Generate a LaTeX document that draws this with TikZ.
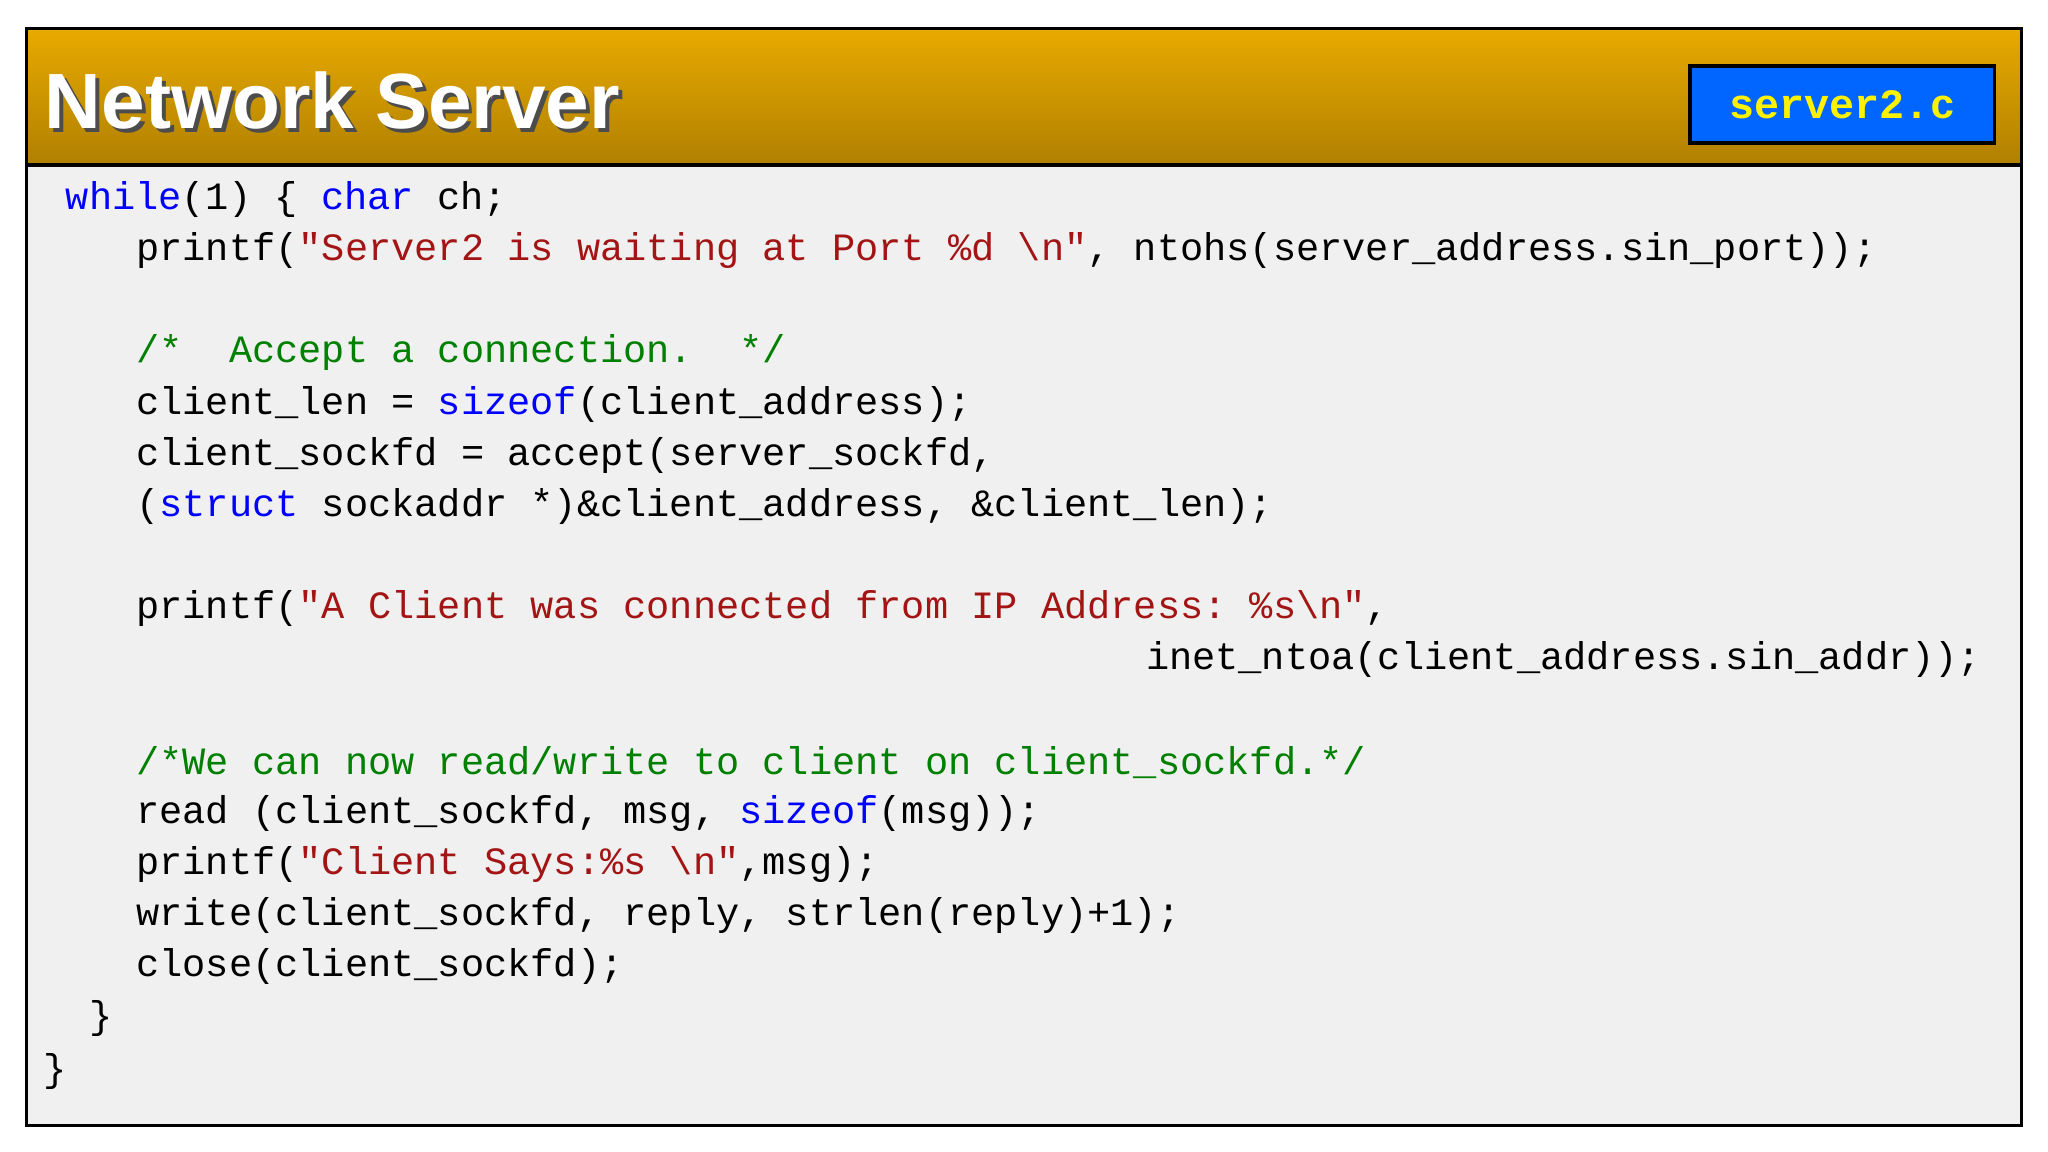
\documentclass[tikz,border=0pt]{standalone}
\usepackage{fontspec}
\setmainfont{Liberation Sans}
\setmonofont{Liberation Mono}
\definecolor{kw}{RGB}{0,0,255}
\definecolor{st}{RGB}{163,21,21}
\definecolor{cm}{RGB}{0,128,0}
\definecolor{goldtop}{RGB}{232,170,0}
\definecolor{goldbot}{RGB}{176,128,0}
\definecolor{bg}{RGB}{240,240,240}
\definecolor{fileblue}{RGB}{0,102,255}
\newcommand{\Kw}[1]{\textcolor{kw}{#1}}
\newcommand{\Sq}[1]{\textcolor{st}{#1}}
\newcommand{\Cm}[1]{\textcolor{cm}{#1}}
\begin{document}
\begin{tikzpicture}[x=0.5pt,y=-0.5pt,
  code/.style={anchor=west,inner sep=0pt,font=\ttfamily\fontsize{14.8}{16}\selectfont}]
\useasboundingbox (0,0) rectangle (1568,882);
\fill[white] (0,0) rectangle (1568,882);
\fill[bg] (20,126) rectangle (1548,862);
\shade[top color=goldtop,bottom color=goldbot] (20,22) rectangle (1548,126);
\draw[line width=1.5pt] (20,126) -- (1548,126);
\draw[line width=1.2pt] (20,22) rectangle (1548,862);
\node[anchor=west,inner sep=0pt,text=black!70,font=\bfseries\fontsize{30}{32}\selectfont] at (37,80) {Network Server};
\node (title) [anchor=west,inner sep=0pt,text=white,font=\bfseries\fontsize{30}{32}\selectfont] at (34,77) {Network Server};
\node (file) [draw=black,line width=1.5pt,fill=fileblue,minimum width=116.5pt,minimum height=29.5pt,inner sep=0pt,text=yellow,font=\ttfamily\bfseries\fontsize{16}{18}\selectfont] at (1410.5,80) {server2.c};
\node[code] (l1) at (50,153) {\Kw{while}(1) \{ \Kw{char} ch;};
\node[code] (l2) at (104,192) {printf(\Sq{"Server2 is waiting at Port \%d \textbackslash n"}, ntohs(server\_address.sin\_port));};
\node[code] (l3) at (104,270) {\Cm{/*~ Accept a connection.~ */}};
\node[code] (l4) at (104,310) {client\_len = \Kw{sizeof}(client\_address);};
\node[code] (l5) at (104,349) {client\_sockfd = accept(server\_sockfd,};
\node[code] (l6) at (104,388) {(\Kw{struct} sockaddr *)\&client\_address, \&client\_len);};
\node[code] (l7) at (104,466) {printf(\Sq{"A Client was connected from IP Address: \%s\textbackslash n"},};
\node[code] (l8) at (877,505) {inet\_ntoa(client\_address.sin\_addr));};
\node[code] (l9) at (104,584) {\Cm{/*We can now read/write to client on client\_sockfd.*/}};
\node[code] (l10) at (104,623) {read (client\_sockfd, msg, \Kw{sizeof}(msg));};
\node[code] (l11) at (104,662) {printf(\Sq{"Client Says:\%s \textbackslash n"},msg);};
\node[code] (l12) at (104,701) {write(client\_sockfd, reply, strlen(reply)+1);};
\node[code] (l13) at (104,740) {close(client\_sockfd);};
\node[code] (l14) at (68,780) {\}};
\node[code] (l15) at (33,820) {\}};
\end{tikzpicture}
\end{document}
